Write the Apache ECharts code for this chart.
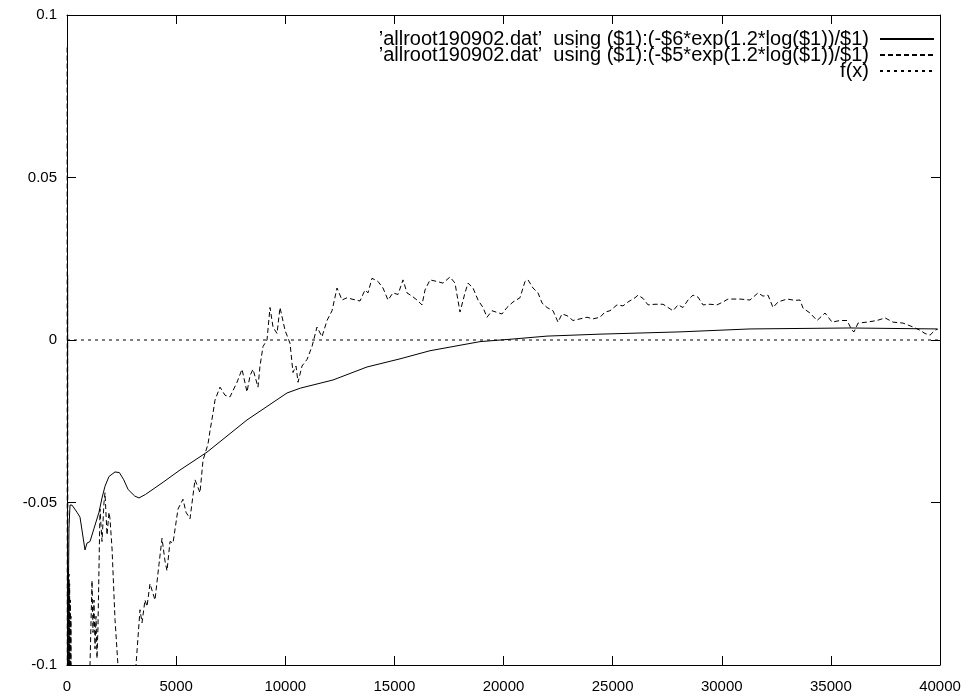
<!DOCTYPE html>
<html>
<head>
<meta charset="utf-8">
<script src="https://cdn.jsdelivr.net/npm/echarts@6/dist/echarts.min.js"></script>
<style>
html,body{margin:0;padding:0;background:#fff;}
#chart{width:969px;height:700px;}
</style>
</head>
<body>
<div id="chart"></div>
<script>
// Series names
const name6 = "\u2019allroot190902.dat\u2019  using ($1):(-$6*exp(1.2*log($1))/$1)";
const name5 = "\u2019allroot190902.dat\u2019  using ($1):(-$5*exp(1.2*log($1))/$1)";
const nameF = "f(x)";

// Tick labels
const xTicks = [0, 5000, 10000, 15000, 20000, 25000, 30000, 35000, 40000];
const yTicks = [-0.1, -0.05, 0, 0.05, 0.1];

// Solid series ($6)
const solidX = [20, 50, 90, 137, 229, 458, 596, 825, 916, 1054, 1237, 1466, 1604, 1741, 1924, 2200, 2400, 2600, 2800, 3100, 3300, 3600, 4353, 5178, 6415, 8248, 10081, 10700, 12189, 13746, 15258, 16633, 18924, 20436, 21994, 24422, 28088, 31295, 35877, 39863];
const solidY = [-0.15, -0.09, -0.058, -0.0508, -0.0508, -0.053, -0.0545, -0.0646, -0.0625, -0.062, -0.058, -0.053, -0.0486, -0.045, -0.042, -0.0406, -0.0408, -0.043, -0.046, -0.048, -0.0486, -0.0475, -0.044, -0.040, -0.0345, -0.0246, -0.0163, -0.0148, -0.0123, -0.0083, -0.0058, -0.0033, -0.0005, 0.0003, 0.0012, 0.0018, 0.0025, 0.0034, 0.0037, 0.0034];

// Dashed series ($5)
const dashX = [5, 15, 30, 45, 60, 75, 90, 105, 120, 135, 150, 165, 180, 200, 400, 1008, 1054, 1146, 1191, 1237, 1283, 1329, 1375, 1420, 1512, 1604, 1695, 1741, 1833, 1924, 1970, 2062, 2200, 2383, 2657, 3024, 3162, 3345, 3437, 3574, 3666, 3803, 4032, 4215, 4353, 4490, 4582, 4720, 4857, 5086, 5315, 5453, 5636, 5865, 6094, 6232, 6461, 6552, 6690, 6781, 7010, 7240, 7469, 7790, 8019, 8248, 8385, 8522, 8752, 8843, 8981, 9164, 9302, 9439, 9622, 9760, 9989, 10218, 10355, 10493, 10585, 10768, 10997, 11226, 11455, 11684, 11913, 12143, 12372, 12601, 12830, 13105, 13425, 13654, 13791, 13975, 14250, 14479, 14708, 14937, 15166, 15395, 15579, 15808, 16037, 16266, 16404, 16633, 16954, 17228, 17549, 17778, 18007, 18236, 18374, 18603, 18832, 19061, 19244, 19473, 19702, 19931, 20160, 20436, 20756, 20985, 21123, 21352, 21581, 21765, 21994, 22269, 22498, 22681, 22910, 23185, 23506, 23826, 24101, 24422, 24651, 24880, 25201, 25476, 25705, 26026, 26163, 26392, 26621, 26942, 27309, 27538, 27767, 27996, 28225, 28454, 28683, 28912, 29142, 29462, 29783, 30058, 30287, 30837, 31295, 31662, 31891, 32120, 32349, 32578, 32990, 33357, 33586, 33724, 34044, 34365, 34732, 35053, 35419, 35740, 35969, 36061, 36244, 36656, 37114, 37481, 37847, 38306, 38764, 39085, 39314, 39543, 39772, 39909];
const dashY = [0.09, -0.15, 0.02, -0.15, -0.07, -0.15, -0.072, -0.15, -0.075, -0.15, -0.08, -0.15, -0.085, -0.15, -0.15, -0.15, -0.10, -0.074, -0.09, -0.08, -0.095, -0.085, -0.098, -0.088, -0.052, -0.062, -0.050, -0.047, -0.060, -0.053, -0.055, -0.064, -0.086, -0.105, -0.15, -0.15, -0.10, -0.083, -0.087, -0.080, -0.082, -0.075, -0.080, -0.069, -0.061, -0.068, -0.071, -0.062, -0.0625, -0.052, -0.049, -0.053, -0.055, -0.043, -0.047, -0.037, -0.032, -0.028, -0.0225, -0.0185, -0.0145, -0.017, -0.0175, -0.013, -0.009, -0.016, -0.011, -0.009, -0.0145, -0.008, -0.002, 0.000, 0.010, 0.004, 0.002, 0.010, 0.003, -0.001, -0.010, -0.008, -0.013, -0.008, -0.006, -0.002, 0.004, 0.001, 0.006, 0.009, 0.016, 0.0123, 0.013, 0.0125, 0.012, 0.0154, 0.0145, 0.019, 0.018, 0.016, 0.0123, 0.0145, 0.0140, 0.0185, 0.0145, 0.0135, 0.0123, 0.0108, 0.0154, 0.0185, 0.018, 0.0175, 0.0194, 0.0175, 0.0086, 0.0145, 0.0175, 0.016, 0.0123, 0.010, 0.007, 0.009, 0.0085, 0.008, 0.010, 0.0117, 0.013, 0.018, 0.0185, 0.016, 0.0145, 0.0114, 0.010, 0.009, 0.0055, 0.008, 0.0075, 0.006, 0.0065, 0.007, 0.0065, 0.007, 0.0086, 0.009, 0.0108, 0.0105, 0.0117, 0.013, 0.0138, 0.0128, 0.0108, 0.011, 0.011, 0.010, 0.009, 0.0108, 0.010, 0.0123, 0.0138, 0.0132, 0.0108, 0.011, 0.0108, 0.0117, 0.0126, 0.0126, 0.0123, 0.0145, 0.0135, 0.0138, 0.010, 0.0117, 0.0126, 0.0122, 0.0123, 0.0098, 0.0083, 0.006, 0.0083, 0.0055, 0.006, 0.006, 0.003, 0.0025, 0.0052, 0.0055, 0.006, 0.0068, 0.0055, 0.0052, 0.004, 0.003, 0.002, 0.0015, 0.003, 0.0034];

// f(x) = 0
const fX = [0, 40000];
const fY = [0, 0];

const zip = (xs, ys) => xs.map((x, i) => [x, ys[i]]);
const FONT = 'Liberation Sans';

const xAxisBase = {
  type: 'value', min: 0, max: 40000, interval: 5000,
  axisLine: { show: true, onZero: false, lineStyle: { color: '#000', width: 1 } },
  axisTick: { show: true, inside: true, length: 9, lineStyle: { color: '#000', width: 1 } },
  splitLine: { show: false }
};
const yAxisBase = {
  type: 'value', min: -0.1, max: 0.1, interval: 0.05,
  axisLine: { show: true, onZero: false, lineStyle: { color: '#000', width: 1 } },
  axisTick: { show: true, inside: true, length: 9, lineStyle: { color: '#000', width: 1 } },
  splitLine: { show: false }
};

function legendFor(name, top) {
  return {
    data: [name], right: 34, top: top, orient: 'vertical', align: 'right',
    itemWidth: 54, itemHeight: 14, padding: 0, selectedMode: false,
    itemStyle: { opacity: 0 },
    textStyle: { fontSize: 20, lineHeight: 16, fontFamily: FONT, color: '#000', padding: [0, 6, 0, 0] }
  };
}

const chart = echarts.init(document.getElementById('chart'), null, { renderer: 'canvas' });
chart.setOption({
  animation: false,
  backgroundColor: '#fff',
  textStyle: { fontFamily: FONT },
  grid: { left: 67, right: 29, top: 15, bottom: 35, containLabel: false },
  legend: [legendFor(name6, 29), legendFor(name5, 45), legendFor(nameF, 61)],
  xAxis: [
    Object.assign({}, xAxisBase, { position: 'bottom',
      axisLabel: { color: '#000', fontSize: 15, fontFamily: FONT, margin: 14,
        formatter: v => String(xTicks.find(t => t === v)) } }),
    Object.assign({}, xAxisBase, { position: 'top', axisLabel: { show: false } })
  ],
  yAxis: [
    Object.assign({}, yAxisBase, { position: 'left',
      axisLabel: { color: '#000', fontSize: 15, fontFamily: FONT, margin: 10,
        formatter: v => { const t = yTicks.find(k => Math.abs(k - v) < 1e-9); return String(t); } } }),
    Object.assign({}, yAxisBase, { position: 'right', axisLabel: { show: false } })
  ],
  series: [
    { name: name6, type: 'line', data: zip(solidX, solidY), symbol: 'none', showSymbol: false,
      lineStyle: { color: '#000', width: 1, type: 'solid' }, itemStyle: { color: '#000' }, clip: true, silent: true },
    { name: name5, type: 'line', data: zip(dashX, dashY), symbol: 'none', showSymbol: false,
      lineStyle: { color: '#000', width: 1, type: [5, 3] }, itemStyle: { color: '#000' }, clip: true, silent: true },
    { name: nameF, type: 'line', data: zip(fX, fY), symbol: 'none', showSymbol: false,
      lineStyle: { color: '#000', width: 1, type: [3, 4] }, itemStyle: { color: '#000' }, clip: true, silent: true }
  ]
});
</script>
</body>
</html>
